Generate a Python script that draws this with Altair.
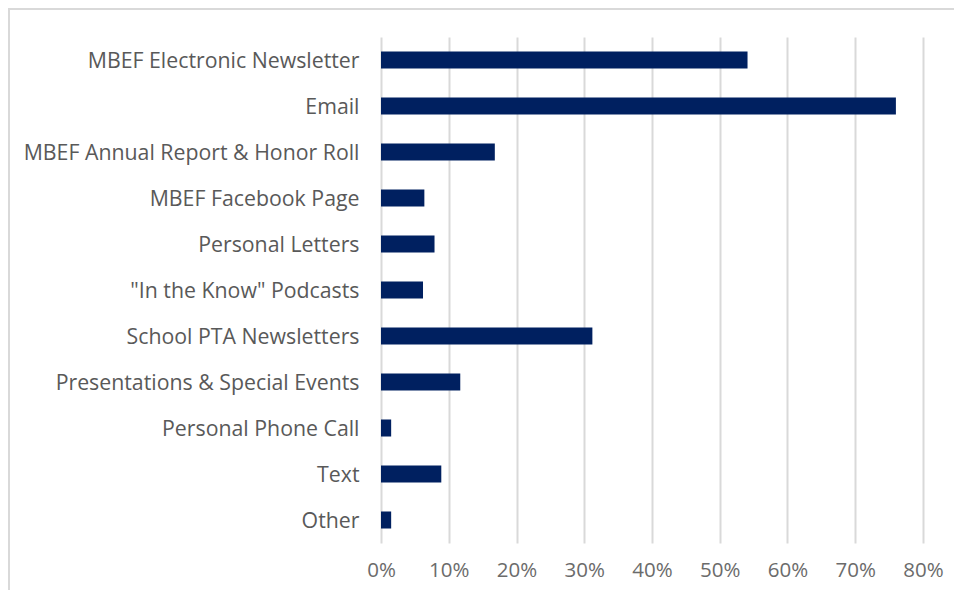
import altair as alt
import pandas as pd

categories = [
    "MBEF Electronic Newsletter",
    "Email",
    "MBEF Annual Report & Honor Roll",
    "MBEF Facebook Page",
    "Personal Letters",
    "\"In the Know\" Podcasts",
    "School PTA Newsletters",
    "Presentations & Special Events",
    "Personal Phone Call",
    "Text",
    "Other",
]
values = [0.541, 0.760, 0.168, 0.064, 0.079, 0.062, 0.312, 0.117, 0.015, 0.089, 0.015]
x_ticks = [0, 0.1, 0.2, 0.3, 0.4, 0.5, 0.6, 0.7, 0.8]

df = pd.DataFrame({"channel": categories, "share": values})

FONT = "Open Sans"
W, H = 542, 506
PL, PT, PR, PB = 373, 29, 31, 47

bars = alt.Chart(df).mark_bar(color="#002060").encode(
    x=alt.X(
        "share:Q",
        scale=alt.Scale(domain=[0, 0.8], nice=False, zero=True),
        axis=alt.Axis(
            values=x_ticks,
            format=".0%",
            title=None,
            domain=False,
            ticks=False,
            grid=True,
            gridColor="#d9d9d9",
            gridWidth=2,
            labelFont=FONT,
            labelFontSize=20.5,
            labelColor="#6b6b6b",
            labelPadding=17,
            labelFlush=False,
            labelOverlap=False,
        ),
    ),
    y=alt.Y(
        "channel:N",
        sort=categories,
        scale=alt.Scale(paddingInner=0.63, paddingOuter=0.315),
        axis=alt.Axis(
            title=None,
            domain=False,
            ticks=False,
            labelFont=FONT,
            labelFontSize=21.3,
            labelColor="#595959",
            labelPadding=22,
            labelLimit=400,
            labelOffset=1.5,
        ),
    ),
)

frame = alt.Chart(pd.DataFrame({"a": [0]})).mark_rect(
    fill=None, stroke="#d9d9d9", strokeWidth=2
).encode(
    x=alt.value(-PL + 1),
    x2=alt.value(W + PR + 5),
    y=alt.value(-PT + 1),
    y2=alt.value(H + PB + 5),
)

chart = alt.layer(frame, bars).properties(
    width=W,
    height=H,
    padding={"left": PL, "top": PT, "right": PR, "bottom": PB},
    autosize=alt.AutoSizeParams(type="none"),
    background="white",
).configure_view(stroke=None)

chart.save("out.html", embed_options={"renderer": "svg", "actions": False})
